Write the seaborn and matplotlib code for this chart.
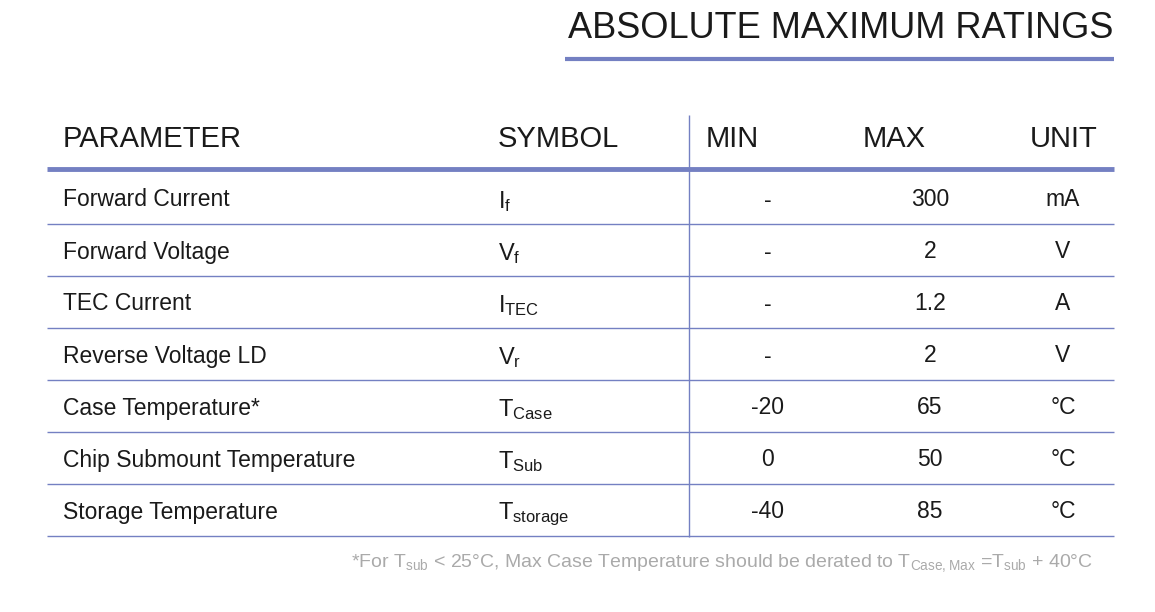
import matplotlib
matplotlib.use("Agg")
import matplotlib.pyplot as plt
import seaborn as sns

sns.set_theme(style="white")
plt.rcParams['font.family'] = ['Liberation Sans', 'DejaVu Sans']
plt.rcParams['mathtext.default'] = 'regular'

title = "ABSOLUTE MAXIMUM RATINGS"
headers = ["PARAMETER", "SYMBOL", "MIN", "MAX", "UNIT"]
parameters = ["Forward Current", "Forward Voltage", "TEC Current", "Reverse Voltage LD",
              "Case Temperature*", "Chip Submount Temperature", "Storage Temperature"]
symbols = [r"$I_{f}$", r"$V_{f}$", r"$I_{TEC}$", r"$V_{r}$", r"$T_{Case}$", r"$T_{Sub}$", r"$T_{storage}$"]
mins = ["-", "-", "-", "-", "-20", "0", "-40"]
maxs = ["300", "2", "1.2", "2", "65", "50", "85"]
units = ["mA", "V", "A", "V", "°C", "°C", "°C"]
footnote = r"*For $T_{sub}$ < 25°C, Max Case Temperature should be derated to $T_{Case,Max}$ =$T_{sub}$ + 40°C"

W, H = 1155, 612
fig = plt.figure(figsize=(W/100, H/100), dpi=100)
ax = fig.add_axes([0, 0, 1, 1])
ax.set_xlim(0, W); ax.set_ylim(H, 0); ax.axis("off")

blue = "#7480c2"
txt = "#1a1a1a"
ax.text(1113, 28, title, ha="right", va="center", fontsize=26, color=txt)
ax.hlines(59, 565, 1114, color=blue, lw=3)

hx = [63, 498, 706, 863, 1030]
for x, h in zip(hx, headers):
    ax.text(x, 139, h, ha="left", va="center", fontsize=21, color=txt)
ax.hlines(169, 47, 1114, color=blue, lw=3.5)
ax.vlines(689, 115, 537, color=blue, lw=1)

for i in range(len(parameters)):
    y = 200 + 52 * i
    ax.text(63, y, parameters[i], ha="left", va="center", fontsize=16.5, color=txt)
    ax.text(498, y + 2, symbols[i], ha="left", va="center", fontsize=17, color=txt)
    ax.text(768, y, mins[i], ha="center", va="center", fontsize=16.5, color=txt)
    ax.text(930, y, maxs[i], ha="center", va="center", fontsize=16.5, color=txt)
    ax.text(1063, y, units[i], ha="center", va="center", fontsize=16.5, color=txt)
    ax.hlines(y + 24, 47, 1114, color=blue, lw=1)

ax.text(1093, 563, footnote, ha="right", va="center", fontsize=14, color="#aaaaaa")
fig.savefig("out.png", dpi=100)
